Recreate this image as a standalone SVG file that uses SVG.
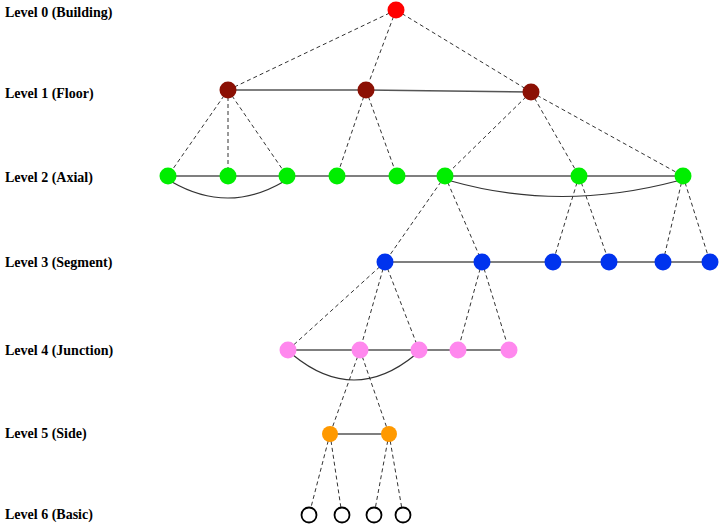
<svg xmlns="http://www.w3.org/2000/svg" width="720" height="525" viewBox="0 0 720 525">
<style>
.lbl{font-family:"Liberation Serif","Times New Roman",serif;font-weight:bold;font-size:14px;fill:#000}
.d{stroke:#333;stroke-width:1;stroke-dasharray:4 3;fill:none}
.s{stroke:#555;stroke-width:1.4;fill:none}
.a{stroke:#333;stroke-width:1.2;fill:none}
.l0{fill:#ff0000}
.l1{fill:#8b1004}
.l2{fill:#00ee00}
.l3{fill:#0033ee}
.l4{fill:#ff88ee}
.l5{fill:#ff9900}
.l6{fill:#fff;stroke:#000;stroke-width:1.8}
</style>
<rect width="720" height="525" fill="#fff"/>
<g id="labels">
<text class="lbl" x="5" y="17">Level 0 (Building)</text>
<text class="lbl" x="5" y="98">Level 1 (Floor)</text>
<text class="lbl" x="5" y="182">Level 2 (Axial)</text>
<text class="lbl" x="5" y="267">Level 3 (Segment)</text>
<text class="lbl" x="5" y="355">Level 4 (Junction)</text>
<text class="lbl" x="5" y="438">Level 5 (Side)</text>
<text class="lbl" x="5" y="519">Level 6 (Basic)</text>
</g>
<g id="connectors">
<!-- dashed hierarchy -->
<line class="d" x1="396" y1="10" x2="228" y2="90"/>
<line class="d" x1="396" y1="10" x2="366" y2="90"/>
<line class="d" x1="396" y1="10" x2="531" y2="92"/>
<line class="d" x1="228" y1="90" x2="168" y2="176"/>
<line class="d" x1="228" y1="90" x2="228" y2="176"/>
<line class="d" x1="228" y1="90" x2="287" y2="176"/>
<line class="d" x1="366" y1="90" x2="337" y2="176"/>
<line class="d" x1="366" y1="90" x2="397" y2="176"/>
<line class="d" x1="531" y1="92" x2="445" y2="176"/>
<line class="d" x1="531" y1="92" x2="579" y2="176"/>
<line class="d" x1="531" y1="92" x2="683" y2="176"/>
<line class="d" x1="445" y1="176" x2="385" y2="262"/>
<line class="d" x1="445" y1="176" x2="482" y2="262"/>
<line class="d" x1="579" y1="176" x2="553" y2="262"/>
<line class="d" x1="579" y1="176" x2="609" y2="262"/>
<line class="d" x1="683" y1="176" x2="663" y2="262"/>
<line class="d" x1="683" y1="176" x2="710" y2="262"/>
<line class="d" x1="385" y1="262" x2="288" y2="350"/>
<line class="d" x1="385" y1="262" x2="360" y2="350"/>
<line class="d" x1="385" y1="262" x2="419" y2="350"/>
<line class="d" x1="482" y1="262" x2="458" y2="350"/>
<line class="d" x1="482" y1="262" x2="509" y2="350"/>
<line class="d" x1="360" y1="350" x2="330" y2="434"/>
<line class="d" x1="360" y1="350" x2="389" y2="434"/>
<line class="d" x1="330" y1="434" x2="309" y2="515"/>
<line class="d" x1="330" y1="434" x2="342" y2="515"/>
<line class="d" x1="389" y1="434" x2="374" y2="515"/>
<line class="d" x1="389" y1="434" x2="403" y2="515"/>
<!-- solid same-level -->
<polyline class="s" points="228,90 366,90 531,92"/>
<line class="s" x1="168" y1="176" x2="683" y2="176"/>
<line class="s" x1="385" y1="262" x2="710" y2="262"/>
<line class="s" x1="288" y1="350" x2="509" y2="350"/>
<line class="s" x1="330" y1="434" x2="389" y2="434"/>
<!-- arcs -->
<path class="a" d="M172,182 Q228,214 283,182"/>
<path class="a" d="M451,181 Q560,212 677,181"/>
<path class="a" d="M293,355 Q354,405 415,355"/>
</g>
<g id="n0"><circle class="l0" cx="396" cy="10" r="8.5"/></g>
<g id="n1a"><circle class="l1" cx="228" cy="90" r="8.5"/></g>
<g id="n1b"><circle class="l1" cx="366" cy="90" r="8.5"/></g>
<g id="n1c"><circle class="l1" cx="531" cy="92" r="8.5"/></g>
<g id="n2a"><circle class="l2" cx="168" cy="176" r="8.5"/></g>
<g id="n2b"><circle class="l2" cx="228" cy="176" r="8.5"/></g>
<g id="n2c"><circle class="l2" cx="287" cy="176" r="8.5"/></g>
<g id="n2d"><circle class="l2" cx="337" cy="176" r="8.5"/></g>
<g id="n2e"><circle class="l2" cx="397" cy="176" r="8.5"/></g>
<g id="n2f"><circle class="l2" cx="445" cy="176" r="8.5"/></g>
<g id="n2g"><circle class="l2" cx="579" cy="176" r="8.5"/></g>
<g id="n2h"><circle class="l2" cx="683" cy="176" r="8.5"/></g>
<g id="n3a"><circle class="l3" cx="385" cy="262" r="8.5"/></g>
<g id="n3b"><circle class="l3" cx="482" cy="262" r="8.5"/></g>
<g id="n3c"><circle class="l3" cx="553" cy="262" r="8.5"/></g>
<g id="n3d"><circle class="l3" cx="609" cy="262" r="8.5"/></g>
<g id="n3e"><circle class="l3" cx="663" cy="262" r="8.5"/></g>
<g id="n3f"><circle class="l3" cx="710" cy="262" r="8.5"/></g>
<g id="n4a"><circle class="l4" cx="288" cy="350" r="8.5"/></g>
<g id="n4b"><circle class="l4" cx="360" cy="350" r="8.5"/></g>
<g id="n4c"><circle class="l4" cx="419" cy="350" r="8.5"/></g>
<g id="n4d"><circle class="l4" cx="458" cy="350" r="8.5"/></g>
<g id="n4e"><circle class="l4" cx="509" cy="350" r="8.5"/></g>
<g id="n5a"><circle class="l5" cx="330" cy="434" r="8"/></g>
<g id="n5b"><circle class="l5" cx="389" cy="434" r="8"/></g>
<g id="n6a"><circle class="l6" cx="309" cy="515" r="7.5"/></g>
<g id="n6b"><circle class="l6" cx="342" cy="515" r="7.5"/></g>
<g id="n6c"><circle class="l6" cx="374" cy="515" r="7.5"/></g>
<g id="n6d"><circle class="l6" cx="403" cy="515" r="7.5"/></g>
</svg>
